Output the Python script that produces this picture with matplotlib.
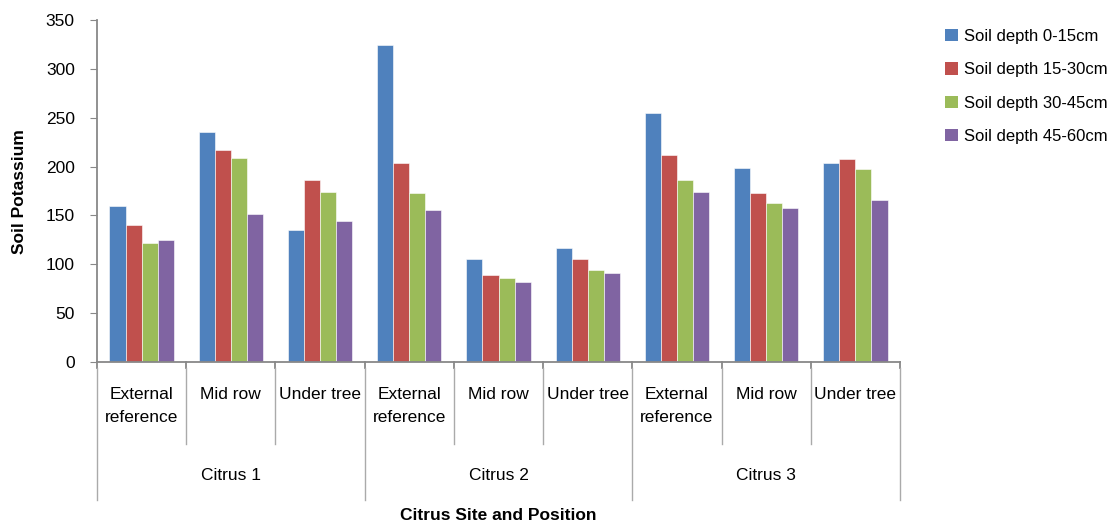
import numpy as np
import matplotlib.pyplot as plt
from matplotlib.patches import Patch

plt.rcParams['font.family'] = ['Liberation Sans', 'DejaVu Sans']

sites = ["Citrus 1", "Citrus 2", "Citrus 3"]
positions = ["External\nreference", "Mid row", "Under tree"]
depths = ["Soil depth 0-15cm", "Soil depth 15-30cm", "Soil depth 30-45cm", "Soil depth 45-60cm"]

depth_0_15 = [160, 235, 135, 324, 105, 117, 255, 199, 204]
depth_15_30 = [140, 217, 186, 204, 89, 105, 212, 173, 208]
depth_30_45 = [122, 209, 174, 173, 86, 94, 186, 163, 198]
depth_45_60 = [125, 151, 144, 156, 82, 91, 174, 158, 166]

colors = ["#4F81BD", "#C0504D", "#9BBB59", "#8064A2"]
series = [depth_0_15, depth_15_30, depth_30_45, depth_45_60]

fig = plt.figure(figsize=(11.12, 5.27), dpi=100)
ax = fig.add_axes([97 / 1112, 1 - 362 / 527, 803 / 1112, 342 / 527])

x = np.arange(len(depth_0_15))
w = 0.18
for i, (vals, c) in enumerate(zip(series, colors)):
    ax.bar(x + (i - 1.5) * w, vals, width=w, color=c, edgecolor="white", linewidth=0.4)

ax.set_xlim(-0.5, 8.5)
ax.set_ylim(0, 350)
ax.set_yticks(range(0, 351, 50))
ax.tick_params(axis="y", direction="out", length=5, color="#888888", labelsize=12.5, pad=11)
ax.set_xticks([])
for s in ["top", "right"]:
    ax.spines[s].set_visible(False)
for s in ["left", "bottom"]:
    ax.spines[s].set_color("#888888")
    ax.spines[s].set_linewidth(1.3)

# two-level category axis below the bars
tr = ax.get_xaxis_transform()
h = 342.0
for b in np.arange(-0.5, 9.0, 1.0):
    outer = (b + 0.5) % 3 == 0
    ax.plot([b, b], [0, -(6 / h)], transform=tr, color="#888888", lw=1.3, clip_on=False)
    y_end = -(138 / h) if outer else -(82 / h)
    ax.plot([b, b], [-(6 / h), y_end], transform=tr, color="#aaaaaa", lw=1.0, clip_on=False)

for i in x:
    ax.text(i, -(25 / h), positions[i % 3], transform=tr, ha="center", va="top",
            fontsize=12.5, linespacing=1.7)
for j, name in enumerate(sites):
    ax.text(3 * j + 1, -(114 / h), name, transform=tr, ha="center", va="center", fontsize=12.5)

fig.text((97 + 900) / 2 / 1112, 1 - 516 / 527, "Citrus Site and Position", ha="center",
         va="center", fontsize=12.5, fontweight="bold")
fig.text(20 / 1112, 1 - 192 / 527, "Soil Potassium", rotation=90, ha="center", va="center",
         fontsize=12.5, fontweight="bold")

handles = [Patch(facecolor=c, label=l) for c, l in zip(colors, depths)]
fig.legend(handles=handles, loc="upper left", bbox_to_anchor=(930 / 1112, 1 - 14 / 527),
           frameon=False, fontsize=12, handlelength=0.75, handleheight=0.75,
           handletextpad=0.4, labelspacing=1.1)

fig.savefig("out.png", dpi=100)
